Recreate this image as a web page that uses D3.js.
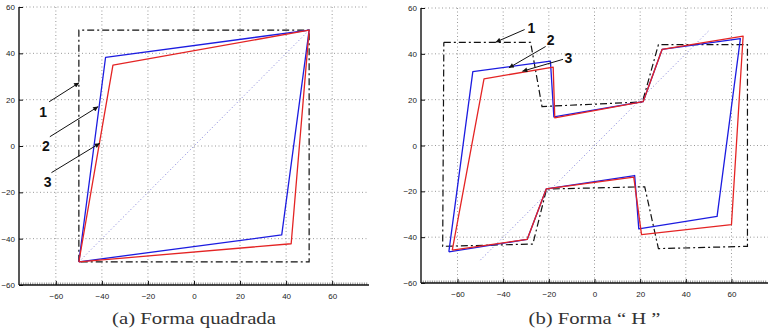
<!DOCTYPE html>
<html>
<head>
<meta charset="utf-8">
<script src="https://cdn.jsdelivr.net/npm/d3@7"></script>
<style>
  body { margin: 0; background: white; }
  .tick-label { font-family: "Liberation Sans", Arial, sans-serif; font-size: 8px; fill: #222; }
  .grid { stroke: #999; stroke-width: 1; stroke-dasharray: 1,2.5; fill: none; }
  .caption { font-family: "Liberation Serif", "Times New Roman", serif; font-size: 16.5px; fill: #333; }
  .note { font-family: "Liberation Sans", Arial, sans-serif; font-size: 14px; font-weight: bold; fill: #111; }
</style>
</head>
<body>
<svg id="chart" width="778" height="328"></svg>
<script>
// ticks shared by both panels
var xTicks = [-60, -40, -20, 0, 20, 40, 60];
var yTicks = [-60, -40, -20, 0, 20, 40, 60];
var xDomain = [-76, 76];
var yDomain = [-60, 60];

// (a) square path: 1 = reference, 2 = blue, 3 = red
var squareRef  = [[-50,-50],[-50,50],[50,50],[50,-50],[-50,-50]];
var squareBlue = [[-50,-50],[-38.4,38.3],[50,50],[38.1,-38.4],[-50,-50]];
var squareRed  = [[-50,-50],[-35.2,34.9],[50,50],[42.2,-42.2],[-50,-50]];
var squareDiag = [[-50,-50],[50,50]];

// (b) "H" path
var hRef  = [[-66,45],[-28,45],[-23,17],[21,19],[28,44],[67,44],[67,-44],[28,-45],[22,-18],[-21,-19],[-27,-43],[-66.5,-44],[-66,45]];
var hBlue = [[-63.8,-46.4],[-53.3,32.2],[-19.3,36.8],[-17.8,12.5],[21.3,19.1],[29.6,41.9],[63.9,46.6],[53.7,-30.9],[19.4,-36.4],[17.6,-13.1],[-21.1,-18.9],[-29.5,-41],[-63.8,-46.4]];
var hRed  = [[-62.3,-45.7],[-48.4,29.1],[-18.1,34.2],[-17.4,12.1],[21.3,19.1],[29.6,41.9],[65.1,47.7],[60,-34.5],[20.6,-38.9],[17.2,-13.8],[-21.1,-18.9],[-29.5,-41],[-62.3,-45.7]];
var hDiag = [[-50,-50],[50,50]];

// arrow annotations (data coords)
var squareNotes = [
  {label: "1", from: [-62.9, 19.1], to: [-49.9, 27.3], at: [-65.5, 14.6]},
  {label: "2", from: [-62.6, 4.0],  to: [-41.6, 17.0], at: [-64.3, 0.2]},
  {label: "3", from: [-61.9, -11.5], to: [-40.9, 1.2], at: [-63.6, -15.6]}
];
var hNotes = [
  {label: "1", from: [-30.6, 50.6], to: [-43.3, 45.1], at: [-27.6, 51.2]},
  {label: "2", from: [-21.4, 43.2], to: [-37.5, 33.9], at: [-19.2, 46.2]},
  {label: "3", from: [-13.8, 37.6], to: [-31.6, 32.4], at: [-11.4, 38.4]}
];

var captions = ["(a) Forma quadrada", "(b) Forma \u201C H \u201D"];

var panels = [
  {x0: 19, x1: 369, y0: 7, y1: 285, ref: squareRef, blue: squareBlue, red: squareRed, diag: squareDiag, notes: squareNotes, caption: captions[0], capW: 164},
  {x0: 421, x1: 768, y0: 8, y1: 283, ref: hRef, blue: hBlue, red: hRed, diag: hDiag, notes: hNotes, caption: captions[1], capW: 132}
];

var svg = d3.select("#chart");

svg.append("defs").append("marker")
  .attr("id", "arrow")
  .attr("viewBox", "0 0 10 10")
  .attr("refX", 10)
  .attr("refY", 5)
  .attr("markerUnits", "userSpaceOnUse")
  .attr("markerWidth", 7)
  .attr("markerHeight", 5)
  .attr("orient", "auto")
  .append("path")
  .attr("d", "M 0 0 L 10 5 L 0 10 z")
  .attr("fill", "#111");

panels.forEach(function(p) {
  var x = d3.scaleLinear().domain(xDomain).range([p.x0, p.x1]);
  var y = d3.scaleLinear().domain(yDomain).range([p.y1, p.y0]);
  var g = svg.append("g");

  // dotted grid
  g.selectAll(".gx").data(xTicks).enter().append("line")
    .attr("class", "grid")
    .attr("x1", d => x(d)).attr("x2", d => x(d))
    .attr("y1", y(60)).attr("y2", y(-60));
  g.selectAll(".gy").data(yTicks.filter(d => d > -60)).enter().append("line")
    .attr("class", "grid")
    .attr("x1", x(-76)).attr("x2", x(76))
    .attr("y1", d => y(d)).attr("y2", d => y(d));

  var line = d3.line().x(d => x(d[0])).y(d => y(d[1]));

  g.append("path").attr("d", line(p.diag))
    .attr("fill", "none").attr("stroke", "#7c7cd8").attr("stroke-width", 1)
    .attr("stroke-dasharray", "1,2.5");

  g.append("path").attr("d", line(p.ref))
    .attr("fill", "none").attr("stroke", "#111").attr("stroke-width", 1.2)
    .attr("stroke-dasharray", "7,3,2,3");

  g.append("path").attr("d", line(p.blue))
    .attr("fill", "none").attr("stroke", "#1c1ce0").attr("stroke-width", 1.3)
    .attr("stroke-linejoin", "round");

  g.append("path").attr("d", line(p.red))
    .attr("fill", "none").attr("stroke", "#e42424").attr("stroke-width", 1.3)
    .attr("stroke-linejoin", "round");

  // axes: left and bottom only
  var xAxis = d3.axisBottom(x).tickValues(xTicks).tickSize(-4).tickPadding(8).tickFormat(d3.format("d"));
  var yAxis = d3.axisLeft(y).tickValues(yTicks).tickSize(-4).tickPadding(4).tickFormat(d3.format("d"));

  // minor ticks on the bottom axis
  g.selectAll(".minor").data(d3.range(-75, 76, 1)).enter().append("line")
    .attr("x1", d => x(d)).attr("x2", d => x(d))
    .attr("y1", y(-60)).attr("y2", y(-60) - 2.5)
    .attr("stroke", "#777").attr("stroke-width", 0.8);

  var ax = g.append("g").attr("transform", "translate(0," + y(-60) + ")").call(xAxis);
  var ay = g.append("g").attr("transform", "translate(" + x(-76) + ",0)").call(yAxis);
  [ax, ay].forEach(function(a) {
    a.select(".domain").attr("stroke", "#111").attr("stroke-width", 1.4);
    a.selectAll(".tick line").attr("stroke", "#111");
    a.selectAll("text").attr("class", "tick-label").attr("font-family", null).attr("font-size", null).attr("fill", null);
  });
  ax.select(".domain").attr("d", "M" + x(-76) + ",0H" + x(76));
  ay.select(".domain").attr("d", "M0," + y(-60) + "V" + y(60));

  // numbered arrows
  p.notes.forEach(function(n) {
    g.append("line")
      .attr("x1", x(n.from[0])).attr("y1", y(n.from[1]))
      .attr("x2", x(n.to[0])).attr("y2", y(n.to[1]))
      .attr("stroke", "#111").attr("stroke-width", 1)
      .attr("marker-end", "url(#arrow)");
    g.append("text").attr("class", "note")
      .attr("x", x(n.at[0])).attr("y", y(n.at[1]))
      .attr("text-anchor", "middle").attr("dy", "0.36em")
      .text(n.label);
  });

  svg.append("text").attr("class", "caption")
    .attr("x", (p.x0 + p.x1) / 2).attr("y", 324)
    .attr("text-anchor", "middle")
    .attr("textLength", p.capW).attr("lengthAdjust", "spacingAndGlyphs")
    .text(p.caption);
});
</script>
</body>
</html>
